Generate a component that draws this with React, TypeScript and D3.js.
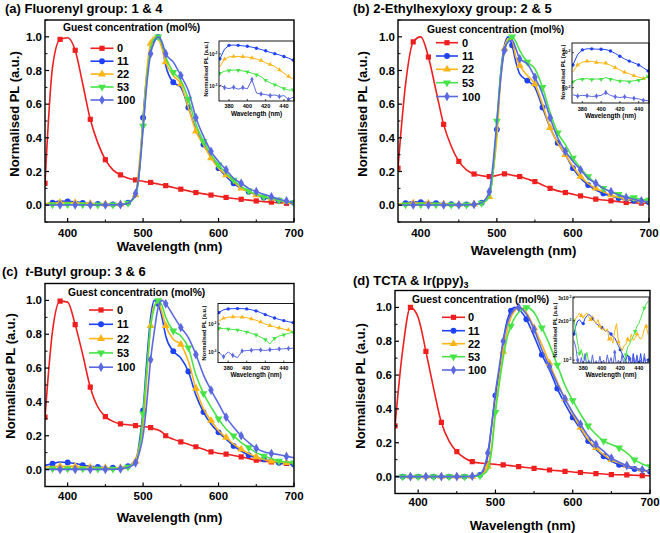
import React from "react";
import * as d3 from "d3";

// ---------- shared axes / categories ----------
const WL = [370,380,390,400,410,420,430,440,450,460,470,480,490,495,500,505,510,515,520,525,530,540,550,560,570,580,590,600,610,620,630,640,650,660,670,680,690,700];
const CONC = ["0", "11", "22", "53", "100"];
const COLORS = ["#ef1f1f", "#1f43f4", "#fcb417", "#46e446", "#5b69e0"];
const X_TICKS = [400, 500, 600, 700];
const Y_TICKS = [0, 0.2, 0.4, 0.6, 0.8, 1.0];
const INSET_WL = [370,375,380,385,390,395,400,405,410,415,420,425,430,435,440,445,450];
const INSET_WL_D = [370,372,374,376,378,380,382,384,386,388,390,392,394,396,398,400,402,404,406,408,410,412,414,416,418,420,422,424,426,428,430,432,434,436,438,440,442,444,446,448,450];
const INSET_X_TICKS = [380, 400, 420, 440];

// ---------- (a) Fluorenyl ----------
const A_0 = [0.13,0.82,0.985,0.995,0.92,0.72,0.51,0.37,0.27,0.21,0.18,0.16,0.15,0.145,0.142,0.138,0.135,0.13,0.126,0.121,0.116,0.105,0.095,0.085,0.075,0.067,0.06,0.053,0.046,0.04,0.035,0.03,0.025,0.021,0.018,0.014,0.011,0.01];
const A_11 = [0.005,0.015,0.025,0.022,0.02,0.014,0.01,0.008,0.006,0.005,0.006,0.015,0.06,0.2,0.52,0.78,0.92,0.98,1.0,0.95,0.83,0.73,0.70,0.58,0.45,0.36,0.29,0.22,0.17,0.13,0.1,0.08,0.06,0.045,0.035,0.028,0.02,0.015];
const A_22 = [0.01,0.012,0.015,0.015,0.014,0.012,0.01,0.008,0.006,0.005,0.006,0.015,0.06,0.25,0.5,0.8,0.96,1.0,0.99,0.93,0.85,0.77,0.72,0.58,0.44,0.36,0.28,0.22,0.18,0.14,0.1,0.08,0.06,0.05,0.04,0.03,0.02,0.015];
const A_53 = [0.003,0.003,0.004,0.004,0.004,0.003,0.002,0.002,0.002,0.002,0.004,0.012,0.06,0.2,0.47,0.75,0.93,0.99,1.0,0.96,0.88,0.79,0.74,0.63,0.48,0.38,0.3,0.24,0.19,0.15,0.11,0.085,0.065,0.05,0.04,0.03,0.02,0.015];
const A_100 = [0.001,0.001,0.001,0.001,0.001,0.001,0.001,0.001,0.001,0.002,0.003,0.012,0.07,0.2,0.45,0.72,0.9,0.97,1.0,0.97,0.9,0.85,0.77,0.68,0.52,0.41,0.32,0.26,0.21,0.16,0.13,0.1,0.08,0.065,0.05,0.035,0.025,0.015];
// inset (log10 of normalised PL)
const AI_11 = [-2.15,-1.85,-1.73,-1.72,-1.73,-1.745,-1.76,-1.785,-1.82,-1.86,-1.9,-1.95,-1.99,-2.03,-2.08,-2.13,-2.19];
const AI_22 = [-2.4,-2.16,-2.09,-2.08,-2.08,-2.085,-2.095,-2.12,-2.16,-2.2,-2.28,-2.33,-2.39,-2.5,-2.6,-2.7,-2.78];
const AI_53 = [-2.6,-2.54,-2.52,-2.5,-2.51,-2.53,-2.56,-2.6,-2.65,-2.71,-2.82,-2.9,-2.96,-3.02,-3.08,-3.13,-3.12];
const AI_100 = [-2.97,-3.05,-3.08,-3.04,-3.1,-3.05,-3.09,-2.8,-3.22,-3.25,-3.27,-3.3,-3.28,-3.33,-3.3,-3.42,-3.35];

// ---------- (b) 2-Ethylhexyloxy ----------
const B_0 = [0.22,0.72,0.97,1.0,0.88,0.68,0.48,0.35,0.26,0.21,0.185,0.175,0.17,0.172,0.176,0.182,0.186,0.183,0.178,0.174,0.17,0.155,0.14,0.12,0.1,0.085,0.075,0.065,0.055,0.045,0.036,0.031,0.026,0.021,0.016,0.014,0.012,0.012];
const B_11 = [0.005,0.012,0.02,0.018,0.016,0.012,0.008,0.006,0.005,0.005,0.006,0.015,0.06,0.2,0.45,0.78,0.95,1.0,0.95,0.85,0.78,0.74,0.7,0.58,0.46,0.37,0.3,0.22,0.16,0.12,0.09,0.07,0.055,0.042,0.033,0.026,0.02,0.018];
const B_22 = [0.008,0.01,0.012,0.012,0.011,0.009,0.007,0.005,0.004,0.004,0.006,0.015,0.05,0.2,0.4,0.75,0.93,0.99,0.98,0.88,0.83,0.77,0.72,0.6,0.46,0.37,0.3,0.23,0.17,0.13,0.1,0.08,0.06,0.045,0.04,0.03,0.025,0.02];
const B_53 = [0.003,0.003,0.003,0.003,0.003,0.003,0.002,0.002,0.002,0.002,0.004,0.012,0.05,0.2,0.5,0.78,0.92,0.98,1.0,0.97,0.92,0.85,0.81,0.7,0.55,0.43,0.36,0.28,0.22,0.17,0.13,0.1,0.08,0.065,0.05,0.045,0.035,0.03];
const B_100 = [0.001,0.001,0.001,0.001,0.001,0.001,0.001,0.001,0.001,0.002,0.004,0.015,0.08,0.25,0.5,0.75,0.92,0.97,0.98,0.93,0.87,0.84,0.76,0.66,0.52,0.4,0.32,0.26,0.21,0.16,0.13,0.1,0.08,0.06,0.045,0.035,0.025,0.02];
const BI_11 = [-2.35,-2.05,-1.92,-1.89,-1.89,-1.9,-1.9,-1.91,-1.95,-2.02,-2.1,-2.18,-2.24,-2.29,-2.35,-2.43,-2.52];
const BI_22 = [-2.55,-2.35,-2.27,-2.24,-2.25,-2.28,-2.29,-2.3,-2.36,-2.43,-2.49,-2.56,-2.6,-2.66,-2.7,-2.74,-2.68];
const BI_53 = [-2.83,-2.76,-2.76,-2.74,-2.77,-2.75,-2.76,-2.71,-2.76,-2.78,-2.81,-2.8,-2.83,-2.8,-2.79,-2.75,-2.68];
const BI_100 = [-3.2,-3.24,-3.22,-3.23,-3.25,-3.24,-3.22,-3.14,-3.22,-3.26,-3.28,-3.26,-3.29,-3.3,-3.32,-3.36,-3.37];

// ---------- (c) t-Butyl ----------
const C_0 = [0.31,0.82,0.996,0.99,0.857,0.68,0.487,0.37,0.313,0.285,0.27,0.265,0.26,0.257,0.255,0.252,0.248,0.24,0.234,0.222,0.2,0.18,0.164,0.15,0.135,0.12,0.105,0.097,0.091,0.083,0.075,0.065,0.056,0.05,0.046,0.04,0.036,0.03];
const C_11 = [0.025,0.035,0.045,0.042,0.036,0.026,0.02,0.015,0.012,0.011,0.012,0.02,0.05,0.16,0.35,0.65,0.9,1.0,0.98,0.9,0.79,0.7,0.66,0.58,0.44,0.34,0.27,0.22,0.18,0.14,0.11,0.085,0.07,0.06,0.05,0.04,0.03,0.03];
const C_22 = [0.015,0.018,0.02,0.02,0.019,0.017,0.014,0.012,0.01,0.01,0.011,0.018,0.05,0.14,0.25,0.55,0.85,0.97,0.99,0.93,0.85,0.77,0.74,0.64,0.48,0.36,0.29,0.23,0.19,0.15,0.12,0.095,0.075,0.06,0.05,0.045,0.04,0.04];
const C_53 = [0.005,0.005,0.005,0.005,0.005,0.005,0.004,0.004,0.004,0.004,0.006,0.015,0.04,0.12,0.33,0.6,0.85,0.96,1.0,0.97,0.9,0.82,0.79,0.72,0.56,0.45,0.37,0.3,0.24,0.2,0.16,0.13,0.1,0.08,0.065,0.05,0.045,0.04];
const C_100 = [0.001,0.001,0.001,0.001,0.001,0.001,0.001,0.001,0.001,0.002,0.004,0.012,0.04,0.1,0.2,0.4,0.65,0.82,0.96,1.0,0.98,0.91,0.84,0.78,0.68,0.56,0.47,0.39,0.31,0.25,0.2,0.16,0.125,0.105,0.095,0.088,0.078,0.07];
const CI_11 = [-1.6,-1.5,-1.47,-1.46,-1.46,-1.46,-1.47,-1.5,-1.54,-1.6,-1.67,-1.73,-1.79,-1.84,-1.88,-1.92,-1.95];
const CI_22 = [-1.9,-1.8,-1.76,-1.75,-1.75,-1.76,-1.78,-1.82,-1.87,-1.93,-2.0,-2.06,-2.1,-2.14,-2.18,-2.21,-2.27];
const CI_53 = [-2.15,-2.16,-2.18,-2.19,-2.21,-2.24,-2.28,-2.33,-2.38,-2.46,-2.55,-2.7,-2.5,-2.42,-2.38,-2.33,-2.28];
const CI_100 = [-3.0,-3.15,-2.98,-3.1,-3.18,-2.95,-2.93,-2.92,-2.9,-2.91,-2.93,-2.9,-2.89,-2.88,-2.87,-2.86,-2.85];

// ---------- (d) TCTA & Ir(ppy)3 ----------
const D_0 = [0.3,0.75,1.0,0.94,0.74,0.52,0.32,0.21,0.147,0.11,0.088,0.08,0.076,0.074,0.072,0.07,0.069,0.067,0.065,0.062,0.059,0.054,0.049,0.044,0.039,0.035,0.031,0.027,0.024,0.021,0.018,0.015,0.012,0.011,0.01,0.008,0.006,0.005];
const D_11 = [0,0,0,0,0,0,0,0,0,0,0.001,0.01,0.12,0.3,0.48,0.63,0.8,0.92,0.98,1.0,0.99,0.93,0.83,0.72,0.63,0.52,0.43,0.35,0.28,0.21,0.16,0.12,0.09,0.07,0.055,0.045,0.035,0.03];
const D_22 = [0,0,0,0,0,0,0,0,0,0,0.001,0.008,0.06,0.18,0.4,0.58,0.74,0.86,0.94,0.98,1.0,0.97,0.88,0.78,0.67,0.56,0.46,0.37,0.29,0.22,0.17,0.13,0.1,0.08,0.065,0.05,0.04,0.03];
const D_53 = [0,0,0,0,0,0,0,0,0,0,0.001,0.005,0.04,0.15,0.38,0.55,0.7,0.82,0.89,0.94,0.97,1.0,0.97,0.88,0.78,0.66,0.54,0.45,0.37,0.3,0.25,0.21,0.19,0.17,0.14,0.1,0.075,0.06];
const D_100 = [0,0,0,0,0,0,0,0,0,0,0.002,0.015,0.14,0.3,0.5,0.65,0.8,0.9,0.96,0.99,1.0,0.96,0.87,0.75,0.65,0.55,0.46,0.38,0.31,0.24,0.19,0.15,0.11,0.085,0.065,0.05,0.04,0.03];
const DI_11 = [-2.80,-2.74,-2.70,-2.69,-2.71,-2.72,-2.68,-2.66,-2.65,-2.66,-2.68,-2.70,-2.72,-2.73,-2.74,-2.75,-2.76,-2.78,-2.77,-2.79,-2.80,-2.82,-2.83,-2.86,-2.89,-2.92,-2.95,-2.98,-3.0,-2.96,-2.99,-3.05,-2.95,-3.05,-2.97,-3.05,-2.95,-3.05,-2.98,-3.05,-3.0];
const DI_22 = [-2.72,-2.68,-2.66,-2.64,-2.66,-2.68,-2.65,-2.64,-2.67,-2.69,-2.66,-2.70,-2.72,-2.69,-2.74,-2.77,-2.75,-2.78,-2.76,-2.84,-2.82,-2.87,-2.78,-2.72,-2.86,-2.90,-2.93,-2.89,-2.88,-2.84,-2.86,-2.80,-2.85,-2.83,-2.80,-2.82,-2.84,-2.82,-2.76,-2.74,-2.80];
const DI_53 = [-2.68,-2.78,-2.87,-2.95,-2.92,-2.98,-3.0,-2.94,-3.02,-3.05,-3.1,-3.1,-3.1,-3.1,-3.1,-3.1,-3.1,-3.1,-3.1,-3.1,-3.1,-3.1,-3.1,-3.1,-3.1,-3.1,-3.1,-3.02,-2.96,-2.9,-2.88,-2.84,-2.82,-2.78,-2.74,-2.72,-2.68,-2.64,-2.6,-2.57,-2.55];
const DI_100 = [-2.85,-2.9,-3.0,-3.05,-2.98,-3.05,-2.95,-3.05,-3.0,-3.05,-2.96,-3.05,-3.02,-3.05,-2.97,-3.05,-3.0,-3.05,-2.96,-3.03,-2.98,-3.05,-2.94,-3.05,-3.0,-3.05,-2.95,-3.05,-3.0,-3.05,-2.97,-3.05,-2.99,-3.05,-2.96,-3.05,-3.0,-3.05,-2.95,-3.05,-3.0];

const FONT = "'Liberation Sans', Arial, Helvetica, sans-serif";
// markers every 20 nm, staggered by series
const MARK_PHASE = [0, 10, 0, 10, 0];

type PanelCfg = {
  id: string;
  series: number[][];
  inset: number[][];
  insetWL: number[];
  insetEvery: number;
  L: number; R: number; T: number; B: number;
  title: React.ReactNode; titleX: number; titleY: number;
  tickY: number; xLabelY: number; yLabelX: number; yLabelY: number;
  leg: { tx: number; ty: number; x1: number; x2: number; lx: number; rows: number[] };
  ins: { L: number; R: number; T: number; B: number; yDom: [number, number]; yTicks: number[]; yTickLabels: string[][]; tickY: number; labY: number; ylx: number; yly: number };
};

const PANELS: PanelCfg[] = [
  {
    id: "a", series: [A_0, A_11, A_22, A_53, A_100], inset: [AI_11, AI_22, AI_53, AI_100], insetWL: INSET_WL, insetEvery: 2,
    L: 45, R: 294, T: 20, B: 222,
    title: <tspan>{"(a) Fluorenyl group: 1 & 4"}</tspan>, titleX: 5, titleY: 13,
    tickY: 236.5, xLabelY: 250.5, yLabelX: 14, yLabelY: 114,
    leg: { tx: 63, ty: 30.5, x1: 90.5, x2: 113.5, lx: 117, rows: [48.3, 61.2, 74.1, 87, 100] },
    ins: { L: 219, R: 294, T: 41, B: 101, yDom: [10 ** -3.469, 10 ** -1.594], yTicks: [1e-2, 1e-3], yTickLabels: [["10", "-2"], ["10", "-3"]], tickY: 108, labY: 115.5, ylx: 206, yly: 69 },
  },
  {
    id: "b", series: [B_0, B_11, B_22, B_53, B_100], inset: [BI_11, BI_22, BI_53, BI_100], insetWL: INSET_WL, insetEvery: 2,
    L: 398, R: 649, T: 20, B: 222,
    title: <tspan>{"(b) 2-Ethylhexyloxy group: 2 & 5"}</tspan>, titleX: 353, titleY: 13,
    tickY: 236.5, xLabelY: 254.5, yLabelX: 362, yLabelY: 114,
    leg: { tx: 427, ty: 33, x1: 436, x2: 458, lx: 462, rows: [42.7, 56, 69.3, 82.7, 96.5] },
    ins: { L: 572, R: 649, T: 43, B: 103, yDom: [10 ** -3.437, 10 ** -1.723], yTicks: [1e-2, 1e-3], yTickLabels: [["10", "-2"], ["10", "-3"]], tickY: 110.5, labY: 118, ylx: 563, yly: 72 },
  },
  {
    id: "c", series: [C_0, C_11, C_22, C_53, C_100], inset: [CI_11, CI_22, CI_53, CI_100], insetWL: INSET_WL, insetEvery: 2,
    L: 45, R: 294, T: 283.5, B: 486.5,
    title: <>
      <tspan>{"(c)\u00a0\u00a0"}</tspan><tspan fontStyle="italic">t</tspan><tspan>{"-Butyl group: 3 & 6"}</tspan>
    </>, titleX: 2, titleY: 276,
    tickY: 499.5, xLabelY: 521.5, yLabelX: 10, yLabelY: 376,
    leg: { tx: 68, ty: 296, x1: 89, x2: 113, lx: 117, rows: [310, 324.3, 338.6, 352.9, 367.2] },
    ins: { L: 218, R: 294, T: 303.5, B: 362.5, yDom: [10 ** -3.351, 10 ** -1.281], yTicks: [1e-2, 1e-3], yTickLabels: [["10", "-2"], ["10", "-3"]], tickY: 369.5, labY: 377, ylx: 204, yly: 333 },
  },
  {
    id: "d", series: [D_0, D_11, D_22, D_53, D_100], inset: [DI_11, DI_22, DI_53, DI_100], insetWL: INSET_WL_D, insetEvery: 5,
    L: 395, R: 650, T: 290.5, B: 493.5,
    title: <>
      <tspan>{"(d) TCTA & Ir(ppy)"}</tspan><tspan fontSize={9} dy={3}>3</tspan>
    </>, titleX: 353, titleY: 284.5,
    tickY: 506, xLabelY: 529.5, yLabelX: 360, yLabelY: 386,
    leg: { tx: 412, ty: 303, x1: 442, x2: 465, lx: 468, rows: [317.3, 330.7, 343.7, 356.7, 370] },
    ins: { L: 573, R: 649, T: 297, B: 363, yDom: [9.5e-4, 3.05e-3], yTicks: [3e-3, 2e-3, 1e-3], yTickLabels: [["3x10", "-3"], ["2x10", "-3"], ["10", "-3"]], tickY: 369.5, labY: 376.5, ylx: 555, yly: 330 },
  },
];

const SYMBOLS = [d3.symbolSquare, d3.symbolCircle, d3.symbolTriangle, d3.symbolTriangle, d3.symbolDiamond];

function Marker({ si, x, y, size }: { si: number; x: number; y: number; size: number }) {
  const d = d3.symbol(SYMBOLS[si], size)() as string;
  const rot = si === 3 ? " rotate(180)" : "";
  return <path d={d} transform={`translate(${x},${y})${rot}`} fill={COLORS[si]} />;
}

function Inset({ p }: { p: PanelCfg }) {
  const g = p.ins;
  const x = d3.scaleLinear().domain([369, 451]).range([g.L, g.R]);
  const y = d3.scaleLog().domain(g.yDom).range([g.B, g.T]);
  const line = d3.line<number>().x((_, i) => x(p.insetWL[i])).y((v) => y(10 ** v));
  const cid = `iclip-${p.id}`;
  return (
    <g>
      <defs>
        <clipPath id={cid}><rect x={g.L} y={g.T} width={g.R - g.L} height={g.B - g.T} /></clipPath>
      </defs>
      <rect x={g.L} y={g.T} width={g.R - g.L} height={g.B - g.T} fill="#fff" />
      <g clipPath={`url(#${cid})`}>
        {p.inset.map((s, k) => {
          const si = k + 1;
          return (
            <g key={k}>
              <path d={line(s) as string} fill="none" stroke={COLORS[si]} strokeWidth={1} />
              {s.map((v, i) => (i + k) % p.insetEvery === 0 ? (
                <Marker key={i} si={si} x={x(p.insetWL[i])} y={y(10 ** v)} size={9} />
              ) : null)}
            </g>
          );
        })}
      </g>
      <rect x={g.L} y={g.T} width={g.R - g.L} height={g.B - g.T} fill="none" stroke="#000" strokeWidth={0.9} />
      {INSET_X_TICKS.map((t) => (
        <g key={t}>
          <line x1={x(t)} x2={x(t)} y1={g.B} y2={g.B - 2} stroke="#000" strokeWidth={0.7} />
          <text x={x(t)} y={g.tickY} fontSize={5.6} fontWeight="bold" textAnchor="middle">{t}</text>
        </g>
      ))}
      {g.yTicks.map((t, i) => (
        <g key={t}>
          <line x1={g.L} x2={g.L + 2} y1={y(t)} y2={y(t)} stroke="#000" strokeWidth={0.7} />
          <text x={g.L - 1.5} y={y(t) + 1.8} fontSize={4.6} fontWeight="bold" textAnchor="end">
            {g.yTickLabels[i][0]}<tspan fontSize={3.4} dy={-2}>{g.yTickLabels[i][1]}</tspan>
          </text>
        </g>
      ))}
      <text x={(g.L + g.R) / 2} y={g.labY} fontSize={6.4} fontWeight="bold" textAnchor="middle">Wavelength (nm)</text>
      <text transform={`translate(${g.ylx + 2},${g.yly}) rotate(-90)`} fontSize={5.7} fontWeight="bold" textAnchor="middle">Normalised PL (a.u.)</text>
    </g>
  );
}

function Panel({ p }: { p: PanelCfg }) {
  const x = d3.scaleLinear().domain([370, 700]).range([p.L, p.R]);
  const y = d3.scaleLinear().domain([-0.1, 1.1]).range([p.B, p.T]);
  const line = d3.line<number>().x((_, i) => x(WL[i])).y((v) => y(v)).curve(d3.curveMonotoneX);
  const cid = `clip-${p.id}`;
  const fmt = d3.format(".1f");
  const minorX = d3.range(350, 701, 50).filter((v) => v > 370 && !X_TICKS.includes(v));
  const minorY = d3.range(-0.1, 1.11, 0.2);
  return (
    <g>
      <defs>
        <clipPath id={cid}><rect x={p.L} y={p.T} width={p.R - p.L} height={p.B - p.T} /></clipPath>
      </defs>
      <text x={p.titleX} y={p.titleY} fontSize={13} fontWeight="bold">{p.title}</text>
      <g clipPath={`url(#${cid})`}>
        {p.series.map((s, si) => (
          <g key={si}>
            <path d={line(s) as string} fill="none" stroke={COLORS[si]} strokeWidth={1.6} />
            {s.map((v, i) => ((WL[i] - 370 + MARK_PHASE[si]) % 20 === 0 && (si === 0 || WL[i] > 370)) ? (
              <Marker key={i} si={si} x={x(WL[i])} y={y(v)} size={27} />
            ) : null)}
          </g>
        ))}
      </g>
      <Inset p={p} />
      <rect x={p.L} y={p.T} width={p.R - p.L} height={p.B - p.T} fill="none" stroke="#000" strokeWidth={1.4} />
      {X_TICKS.map((t) => (
        <g key={t}>
          <line x1={x(t)} x2={x(t)} y1={p.B} y2={p.B - 4} stroke="#000" strokeWidth={1.2} />
          <text x={x(t)} y={p.tickY} fontSize={11.5} fontWeight="bold" textAnchor="middle">{t}</text>
        </g>
      ))}
      {minorX.map((t) => (
        <line key={t} x1={x(t)} x2={x(t)} y1={p.B} y2={p.B - 2.5} stroke="#000" strokeWidth={1} />
      ))}
      {Y_TICKS.map((t) => (
        <g key={t}>
          <line x1={p.L} x2={p.L + 4} y1={y(t)} y2={y(t)} stroke="#000" strokeWidth={1.2} />
          <text x={p.L - 3} y={y(t) + 4} fontSize={11.5} fontWeight="bold" textAnchor="end">{fmt(t)}</text>
        </g>
      ))}
      {minorY.map((t, i) => (
        <line key={i} x1={p.L} x2={p.L + 2.5} y1={y(t)} y2={y(t)} stroke="#000" strokeWidth={1} />
      ))}
      <text x={(p.L + p.R) / 2} y={p.xLabelY} fontSize={13.2} fontWeight="bold" textAnchor="middle">Wavelength (nm)</text>
      <text transform={`translate(${p.yLabelX + 4.5},${p.yLabelY}) rotate(-90)`} fontSize={13} fontWeight="bold" textAnchor="middle">Normalised PL (a.u.)</text>
      {/* legend */}
      <text x={p.leg.tx} y={p.leg.ty} fontSize={10.3} fontWeight="bold">Guest concentration (mol%)</text>
      {CONC.map((c, si) => (
        <g key={c}>
          <line x1={p.leg.x1} x2={p.leg.x2} y1={p.leg.rows[si]} y2={p.leg.rows[si]} stroke={COLORS[si]} strokeWidth={1.6} />
          <Marker si={si} x={(p.leg.x1 + p.leg.x2) / 2} y={p.leg.rows[si]} size={27} />
          <text x={p.leg.lx} y={p.leg.rows[si] + 4} fontSize={11} fontWeight="bold">{c}</text>
        </g>
      ))}
    </g>
  );
}

export default function App() {
  return (
    <svg width={660} height={533} viewBox="0 0 660 533" fontFamily={FONT}
      style={{ position: "absolute", left: 0, top: 0, background: "#fff" }}>
      <rect x={0} y={0} width={660} height={533} fill="#fff" />
      {PANELS.map((p) => <Panel key={p.id} p={p} />)}
    </svg>
  );
}
